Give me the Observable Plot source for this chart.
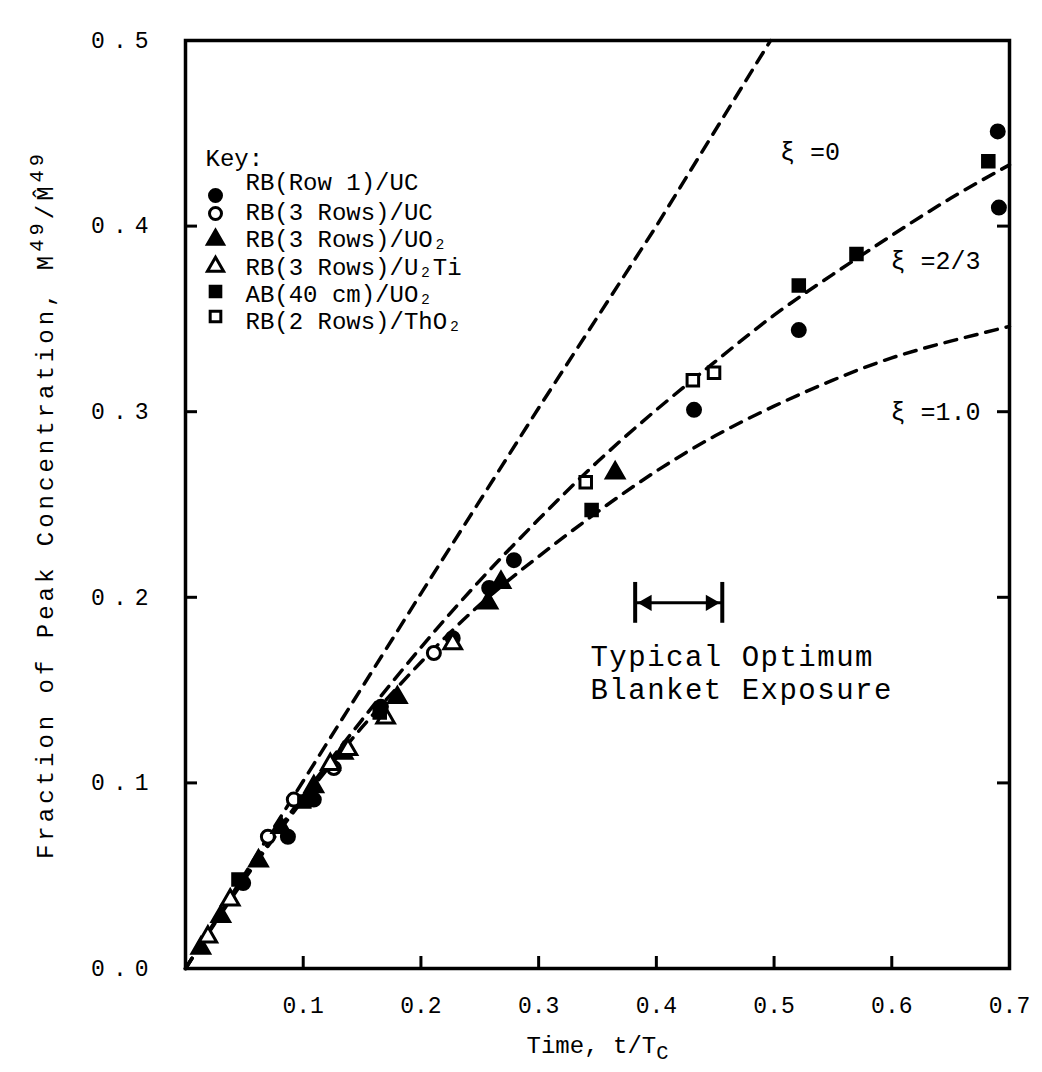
<!DOCTYPE html>
<html><head><meta charset="utf-8">
<script src="https://cdn.jsdelivr.net/npm/d3@7"></script>
<script src="https://cdn.jsdelivr.net/npm/@observablehq/plot@0.6"></script>
<style>body{margin:0;background:#fff} svg{display:block}</style>
</head><body><div id="chart"></div>
<script>
// ---- axes ----
const xTickLabels = [0.1, 0.2, 0.3, 0.4, 0.5, 0.6, 0.7];
const yTickLabels = [0.0, 0.1, 0.2, 0.3, 0.4, 0.5];
const xInnerTicks = [0.1, 0.2, 0.3, 0.4, 0.5, 0.6];
const yInnerTicks = [0.1, 0.2, 0.3, 0.4];
const xTitle = "Time, t/T_{C}";
const yTitle = "Fraction of Peak Concentration, M^{49}/M\u0302^{49}";

// ---- theory curves ----
const xi0T = [0, 0.1, 0.2, 0.3, 0.4, 0.497];
const xi0Y = [0, 0.101, 0.202, 0.302, 0.400, 0.5];
const curveT = [0, 0.05, 0.1, 0.15, 0.2, 0.25, 0.3, 0.35, 0.4, 0.45, 0.5, 0.55, 0.6, 0.65, 0.7];
const xi23Y = [0, 0.049, 0.093, 0.134, 0.173, 0.209, 0.242, 0.273, 0.301, 0.327, 0.352, 0.374, 0.395, 0.415, 0.433];
const xi1Y  = [0, 0.048, 0.091, 0.130, 0.165, 0.196, 0.222, 0.246, 0.268, 0.287, 0.303, 0.317, 0.329, 0.338, 0.346];
const curveLabels = ["\u03BE =0", "\u03BE =2/3", "\u03BE =1.0"];
const curveLabelT = [0.505, 0.599, 0.599];
const curveLabelY = [0.440, 0.381, 0.300];

// ---- measured points ----
const rowOneUcT = [0.049, 0.087, 0.109, 0.166, 0.227, 0.258, 0.279, 0.432, 0.521, 0.690, 0.691];
const rowOneUcY = [0.046, 0.071, 0.091, 0.141, 0.178, 0.205, 0.220, 0.301, 0.344, 0.451, 0.410];
const threeRowsUcT = [0.070, 0.092, 0.126, 0.211];
const threeRowsUcY = [0.071, 0.091, 0.108, 0.170];
const threeRowsUo2T = [0.013, 0.030, 0.062, 0.081, 0.109, 0.134, 0.180, 0.257, 0.268, 0.365];
const threeRowsUo2Y = [0.011, 0.028, 0.058, 0.076, 0.098, 0.116, 0.146, 0.197, 0.208, 0.267];
const threeRowsU2TiT = [0.019, 0.038, 0.123, 0.138, 0.170, 0.227];
const threeRowsU2TiY = [0.017, 0.037, 0.110, 0.118, 0.135, 0.175];
const ab40Uo2T = [0.045, 0.101, 0.165, 0.345, 0.521, 0.570, 0.682];
const ab40Uo2Y = [0.048, 0.090, 0.138, 0.247, 0.368, 0.385, 0.435];
const twoRowsTho2T = [0.340, 0.431, 0.449];
const twoRowsTho2Y = [0.262, 0.317, 0.321];

const seriesNames = ["RB(Row 1)/UC", "RB(3 Rows)/UC", "RB(3 Rows)/UO\u2082", "RB(3 Rows)/U\u2082Ti", "AB(40 cm)/UO\u2082", "RB(2 Rows)/ThO\u2082"];
const seriesSymbols = ["circle", "circle", "triangle", "triangle", "square", "square"];
const seriesFilled = [true, false, true, false, true, false];
const legendTitle = "Key:";

// ---- annotation ----
const bandT = [0.382, 0.456];
const bandY = [0.197];
const bandBarY = [0.186, 0.208];
const bandHeadT = [0.392, 0.446];
const noteLines = ["Typical Optimum", "Blanket Exposure"];
const noteT = [0.344];
const noteY = [0.168, 0.150];

// ---- build ----
const seriesT = [rowOneUcT, threeRowsUcT, threeRowsUo2T, threeRowsU2TiT, ab40Uo2T, twoRowsTho2T];
const seriesY = [rowOneUcY, threeRowsUcY, threeRowsUo2Y, threeRowsU2TiY, ab40Uo2Y, twoRowsTho2Y];
const font = "Liberation Mono, DejaVu Sans Mono, monospace";
const W = 1042, H = 1072, mL = 185, mR = 33, mT = 40, mB = 104;
const pw = W - mL - mR, ph = H - mT - mB;

const dash = {stroke: "black", strokeWidth: 3.5, strokeDasharray: "12,9"};
const marks = [];
marks.push(Plot.line(xi0T.map((t, i) => ({t, y: xi0Y[i]})), {x: "t", y: "y", ...dash}));
marks.push(Plot.line(curveT.map((t, i) => ({t, y: xi23Y[i]})), {x: "t", y: "y", curve: "natural", ...dash}));
marks.push(Plot.line(curveT.map((t, i) => ({t, y: xi1Y[i]})), {x: "t", y: "y", curve: "natural", ...dash}));
marks.push(Plot.text(curveLabels.map((s, i) => ({s, t: curveLabelT[i], y: curveLabelY[i]})),
  {x: "t", y: "y", text: "s", textAnchor: "start", fontSize: 25, fontFamily: font, fill: "black"}));

seriesT.forEach((ts, k) => {
  marks.push(Plot.dot(ts.map((t, i) => ({t, y: seriesY[k][i]})), {
    x: "t", y: "y", symbol: seriesSymbols[k], r: 6.5,
    fill: seriesFilled[k] ? "black" : "white", stroke: "black", strokeWidth: 3
  }));
});

// legend
const legendRowDy = [142, 172, 199, 227, 254, 281];
const legendSymDy = [155, 173, 199, 226, 251, 276];
marks.push(Plot.text([legendTitle], {frameAnchor: "top-left", dx: 20, dy: 118, lineAnchor: "middle", textAnchor: "start", fontSize: 24, fontFamily: font}));
seriesNames.forEach((name, k) => {
  marks.push(Plot.text([name], {frameAnchor: "top-left", dx: 60, dy: legendRowDy[k], lineAnchor: "middle", textAnchor: "start", fontSize: 24, fontFamily: font}));
  marks.push(Plot.dot([name], {frameAnchor: "top-left", dx: 30, dy: legendSymDy[k], symbol: seriesSymbols[k], r: 6,
    fill: seriesFilled[k] ? "black" : "white", stroke: "black", strokeWidth: 3}));
});

// annotation
marks.push(Plot.link([{a: bandT[0], b: bandT[1], y: bandY[0]}], {x1: "a", x2: "b", y1: "y", y2: "y", stroke: "black", strokeWidth: 3}));
marks.push(Plot.ruleX(bandT, {y1: bandBarY[0], y2: bandBarY[1], stroke: "black", strokeWidth: 4}));
marks.push(Plot.dot(bandHeadT.map((t, i) => ({t, rot: i === 0 ? -90 : 90})), {x: "t", y: () => bandY[0], symbol: "triangle", r: 6, rotate: "rot", fill: "black"}));
marks.push(Plot.text(noteLines.map((s, i) => ({s, y: noteY[i]})), {x: () => noteT[0], y: "y", text: "s", textAnchor: "start", fontSize: 29, fontFamily: font}));

// frame + ticks
marks.push(Plot.frame({stroke: "black", strokeWidth: 3.5}));
marks.push(Plot.ruleX(xInnerTicks, {x: d => d, insetTop: ph - 12, stroke: "black", strokeWidth: 3}));
marks.push(Plot.ruleY(yInnerTicks, {y: d => d, insetRight: pw - 12, stroke: "black", strokeWidth: 3}));
marks.push(Plot.ruleY(yInnerTicks, {y: d => d, insetLeft: pw - 12, stroke: "black", strokeWidth: 3}));

marks.push(Plot.axisX(xTickLabels, {tickSize: 0, tickPadding: 28, tickFormat: d => d.toFixed(1), fontSize: 23, fontFamily: font, label: null}));
marks.push(Plot.axisY(yTickLabels, {tickSize: 0, tickPadding: 29, tickFormat: d => d.toFixed(1), fontSize: 23, fontFamily: font, label: null}));
marks.push(Plot.text([xTitle], {frameAnchor: "bottom", dy: 84, fontSize: 24, fontFamily: font}));
marks.push(Plot.text([yTitle], {frameAnchor: "left", dx: -140, rotate: -90, textAnchor: "middle", fontSize: 24, fontFamily: font}));

const chart = Plot.plot({
  width: W, height: H,
  marginLeft: mL, marginRight: mR, marginTop: mT, marginBottom: mB,
  x: {domain: [0, 0.7]},
  y: {domain: [0, 0.5]},
  style: {background: "white", color: "black", overflow: "visible"},
  marks
});
document.getElementById("chart").appendChild(chart);

// letter-spaced y labels, wider notes
d3.select(chart).selectAll("[aria-label='y-axis tick label'] text").attr("letter-spacing", "8px");
d3.select(chart).selectAll("text").filter(function() { return noteLines.includes(this.textContent); }).attr("letter-spacing", "1.5px");

// super/subscripts
d3.select(chart).selectAll("text").each(function() {
  const el = this;
  const s = el.textContent;
  if (!/[\^_]\{/.test(s)) return;
  const fs = parseFloat(getComputedStyle(el).fontSize) || 24;
  const parts = s.split(/([\^_]\{[^}]*\})/).filter(p => p);
  el.textContent = "";
  let shift = 0;
  for (const p of parts) {
    const m = p.match(/^([\^_])\{([^}]*)\}$/);
    const ts = d3.select(el).append("tspan");
    if (m) {
      const target = m[1] === "^" ? -0.42 * fs : 0.25 * fs;
      ts.attr("dy", target - shift).attr("font-size", fs * 0.85).text(m[2]);
      shift = target;
    } else {
      if (shift) ts.attr("dy", -shift);
      shift = 0;
      ts.text(p);
    }
  }
});
// y title: stretch to the reference length
d3.select(chart).selectAll("text").filter(function() { return this.textContent.startsWith("Fraction"); }).attr("letter-spacing", "4px");
</script></body></html>
